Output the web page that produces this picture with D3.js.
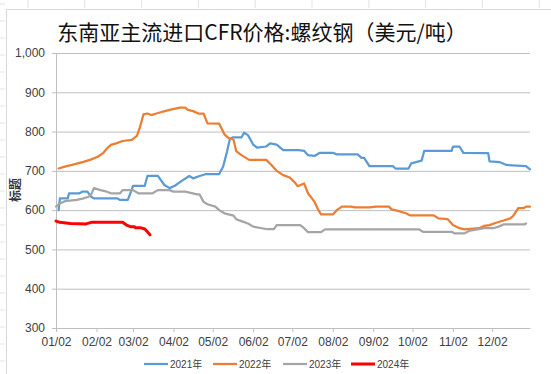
<!DOCTYPE html>
<html>
<head>
<meta charset="utf-8">
<script src="https://cdn.jsdelivr.net/npm/d3@7"></script>
<style>
  body { margin: 0; background: #fff; }
  svg { display: block; }
</style>
</head>
<body>
<div id="chart"></div>
<script>
// values, [MM-DD, USD/t]
const s2021 = [
  ["01-04", 600], ["01-05", 630], ["01-11", 630], ["01-12", 643], ["01-20", 643],
  ["01-22", 647], ["01-26", 647], ["01-29", 634], ["01-31", 630], ["02-18", 630],
  ["02-20", 626], ["02-26", 626], ["02-28", 643], ["03-02", 662], ["03-11", 662],
  ["03-13", 687], ["03-21", 687], ["03-26", 664], ["03-30", 656], ["04-03", 662],
  ["04-08", 674], ["04-14", 687], ["04-17", 681], ["04-22", 687], ["04-27", 692],
  ["05-07", 692], ["05-10", 711], ["05-13", 749], ["05-15", 779], ["05-17", 785],
  ["05-24", 785], ["05-26", 797], ["05-29", 791], ["06-02", 767], ["06-05", 759],
  ["06-12", 762], ["06-15", 770], ["06-20", 767], ["06-25", 753], ["07-07", 753],
  ["07-11", 751], ["07-14", 740], ["07-19", 738], ["07-23", 746], ["08-02", 746],
  ["08-05", 742], ["08-21", 742], ["08-24", 733], ["08-26", 733], ["08-30", 712],
  ["09-17", 712], ["09-19", 706], ["09-29", 706], ["10-01", 719], ["10-09", 726],
  ["10-11", 751], ["11-01", 751], ["11-02", 762], ["11-07", 762], ["11-10", 746],
  ["11-29", 745], ["11-30", 724], ["12-08", 722], ["12-13", 715], ["12-28", 712],
  ["12-31", 704]
];
const s2022 = [
  ["01-04", 706], ["01-08", 710], ["01-15", 716], ["01-23", 723], ["01-28", 728],
  ["02-03", 736], ["02-07", 745], ["02-10", 757], ["02-13", 766], ["02-17", 770],
  ["02-22", 776], ["03-01", 779], ["03-05", 789], ["03-07", 808], ["03-10", 844],
  ["03-13", 846], ["03-16", 842], ["03-20", 846], ["03-25", 851], ["03-30", 855],
  ["04-07", 861], ["04-11", 861], ["04-13", 855], ["04-17", 852], ["04-21", 846],
  ["04-25", 846], ["04-28", 821], ["05-07", 820], ["05-11", 793], ["05-14", 784],
  ["05-18", 779], ["05-20", 750], ["05-24", 740], ["05-30", 728], ["06-12", 728],
  ["06-16", 715], ["06-20", 700], ["06-25", 689], ["06-30", 683], ["07-04", 670],
  ["07-06", 661], ["07-11", 668], ["07-14", 643], ["07-17", 630], ["07-19", 621],
  ["07-22", 600], ["07-24", 589], ["08-02", 589], ["08-05", 600], ["08-09", 609],
  ["08-16", 609], ["08-19", 607], ["08-30", 607], ["09-04", 609], ["09-14", 609],
  ["09-16", 602], ["09-21", 598], ["09-27", 592], ["09-30", 587], ["10-18", 587],
  ["10-22", 579], ["10-29", 577], ["11-02", 562], ["11-07", 554], ["11-11", 551],
  ["11-22", 554], ["11-26", 560], ["11-30", 562], ["12-05", 568], ["12-12", 575],
  ["12-16", 579], ["12-18", 585], ["12-22", 605], ["12-26", 605], ["12-28", 609],
  ["12-31", 609]
];
const s2023 = [
  ["01-02", 609], ["01-05", 617], ["01-09", 623], ["01-18", 626], ["01-23", 630],
  ["01-27", 634], ["01-29", 640], ["01-31", 656], ["02-05", 651], ["02-10", 647],
  ["02-13", 643], ["02-20", 643], ["02-22", 651], ["03-02", 651], ["03-06", 643],
  ["03-17", 643], ["03-21", 651], ["03-30", 651], ["04-02", 647], ["04-11", 647],
  ["04-20", 640], ["04-22", 640], ["04-25", 621], ["04-28", 615], ["05-04", 609],
  ["05-07", 600], ["05-11", 592], ["05-18", 586], ["05-20", 577], ["05-24", 572],
  ["05-29", 566], ["06-02", 558], ["06-12", 552], ["06-18", 552], ["06-20", 562],
  ["07-08", 562], ["07-11", 554], ["07-14", 544], ["07-24", 544], ["07-27", 551],
  ["10-07", 551], ["10-10", 545], ["11-01", 545], ["11-03", 541], ["11-11", 541],
  ["11-15", 548], ["11-21", 551], ["11-26", 554], ["12-03", 554], ["12-07", 558],
  ["12-11", 564], ["12-27", 564], ["12-28", 566]
];
const s2024 = [
  ["01-02", 572], ["01-05", 569], ["01-13", 566], ["01-25", 565], ["01-29", 569],
  ["02-22", 569], ["02-25", 562], ["02-28", 558], ["03-03", 558], ["03-04", 555],
  ["03-08", 555], ["03-11", 552], ["03-13", 545], ["03-15", 537]
];
const seriesNames = ["2021年", "2022年", "2023年", "2024年"];
const seriesColors = ["#5b9bd5", "#ed7d31", "#a5a5a5", "#ff0000"];
const yTicks = [300, 400, 500, 600, 700, 800, 900, 1000];
const xTickLabels = ["01-02", "02-02", "03-02", "04-02", "05-02", "06-02",
  "07-02", "08-02", "09-02", "10-02", "11-02", "12-02"];

const W = 551, H = 374;
const margin = { top: 53, right: 21, bottom: 46, left: 56 };
const parse = d3.timeParse("%Y-%m-%d");
const day = (md) => parse("2021-" + md); // all years on one calendar axis

const svg = d3.select("#chart").append("svg")
  .attr("width", W).attr("height", H);

// spreadsheet cell marks outside the chart frame
svg.append("g").selectAll("line").data(d3.range(28, W, 56.8)).join("line")
  .attr("x1", (d) => d).attr("x2", (d) => d).attr("y1", 0).attr("y2", 8)
  .attr("stroke", "#e3e3e3");
svg.append("g").selectAll("line").data(d3.range(4, H, 17)).join("line")
  .attr("x1", 0).attr("x2", 5).attr("y1", (d) => d).attr("y2", (d) => d)
  .attr("stroke", "#e3e3e3");

// chart frame
svg.append("rect")
  .attr("x", 6.5).attr("y", 9.5).attr("width", W + 10).attr("height", H + 10)
  .attr("fill", "#fff").attr("stroke", "#d9d9d9");

const x = d3.scaleTime()
  .domain([day("01-02"), day("12-31")])
  .range([margin.left, W - margin.right]);
const y = d3.scaleLinear()
  .domain([300, 1000])
  .range([H - margin.bottom, margin.top]);

// title
svg.append("text")
  .attr("x", 262).attr("y", 40)
  .attr("text-anchor", "middle")
  .style("font-family", "'Noto Sans CJK SC', sans-serif")
  .style("font-size", "21px")
  .attr("fill", "#111")
  .text("东南亚主流进口CFR价格:螺纹钢（美元/吨）");

// y axis + grid
const yAxis = svg.append("g")
  .attr("transform", `translate(${margin.left},0)`)
  .call(d3.axisLeft(y).tickValues(yTicks).tickFormat(d3.format(","))
    .tickSizeInner(-(W - margin.left - margin.right)).tickSizeOuter(0).tickPadding(11));
yAxis.select(".domain").attr("stroke", "#bfbfbf");
yAxis.selectAll(".tick line").attr("stroke", "#bfbfbf").attr("x1", -4);
yAxis.selectAll(".tick text")
  .style("font-family", "'Liberation Sans', Arial, sans-serif")
  .style("font-size", "12px").attr("fill", "#404040");

// x axis
const xAxis = svg.append("g")
  .attr("transform", `translate(0,${H - margin.bottom})`)
  .call(d3.axisBottom(x).tickValues(xTickLabels.map(day))
    .tickFormat(d3.timeFormat("%m/%d")).tickSizeInner(4).tickSizeOuter(0).tickPadding(5));
xAxis.select(".domain").attr("stroke", "#bfbfbf");
xAxis.selectAll(".tick line").attr("stroke", "#bfbfbf");
xAxis.selectAll(".tick text")
  .style("font-family", "'Liberation Sans', Arial, sans-serif")
  .style("font-size", "12px").attr("fill", "#404040");

// y title
svg.append("text")
  .attr("transform", "translate(20,190) rotate(-90)")
  .attr("text-anchor", "middle")
  .style("font-family", "'Noto Sans CJK SC', sans-serif")
  .style("font-size", "12px").style("font-weight", "bold")
  .attr("fill", "#333")
  .text("标题");

// lines
const line = d3.line()
  .x((d) => x(day(d[0])))
  .y((d) => y(d[1]));
const all = [s2021, s2022, s2023, s2024];
svg.append("g").selectAll("path").data(all).join("path")
  .attr("d", line)
  .attr("fill", "none")
  .attr("stroke", (d, i) => seriesColors[i])
  .attr("stroke-width", (d, i) => (i === 3 ? 3 : 2.25))
  .attr("stroke-linejoin", "round")
  .attr("stroke-linecap", "round");

// legend
const legendX = [144, 213, 283, 351];
const legend = svg.append("g").selectAll("g").data(seriesNames).join("g")
  .attr("transform", (d, i) => `translate(${legendX[i]},364)`);
legend.append("line")
  .attr("x1", 0).attr("x2", 24)
  .attr("stroke", (d, i) => seriesColors[i])
  .attr("stroke-width", (d, i) => (i === 3 ? 3 : 2.25));
legend.append("text")
  .attr("x", 26).attr("y", 3.5)
  .style("font-family", "'Liberation Sans', 'Noto Sans CJK SC', sans-serif")
  .style("font-size", "10px").attr("fill", "#404040")
  .text((d) => d);
</script>
</body>
</html>
